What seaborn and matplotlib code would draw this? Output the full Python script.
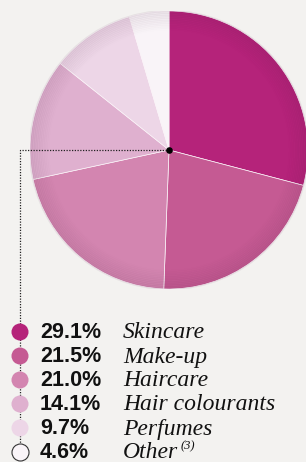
import numpy as np
import pandas as pd
import matplotlib
matplotlib.use("Agg")
import matplotlib.pyplot as plt
import seaborn as sns

# ---- data ----
labels = ["Skincare", "Make-up", "Haircare", "Hair colourants", "Perfumes", "Other"]
shares = [29.1, 21.5, 21.0, 14.1, 9.7, 4.6]
pct_text = ["29.1%", "21.5%", "21.0%", "14.1%", "9.7%", "4.6%"]
colors = ["#b5237a", "#c55a93", "#d385b0", "#dfb0cf", "#edd6e7", "#f9f4f8"]

BG = "#f3f2f0"
W, H = 306, 462

sns.set_theme(style="white")
plt.rcParams["font.family"] = ["Liberation Sans", "DejaVu Sans"]

fig = plt.figure(figsize=(W / 100, H / 100), dpi=100)
fig.patch.set_facecolor(BG)

# pie axes placed by pixel centre / radius
cx, cy, r = 169, 150, 139
axp = fig.add_axes([(cx - r) / W, (H - cy - r) / H, 2 * r / W, 2 * r / H])
axp.set_facecolor("none")
axp.pie(shares, colors=colors, startangle=90, counterclock=False, radius=1,
        wedgeprops=dict(edgecolor="#fbf3f8", linewidth=0.5))
# soft rim shading
for k in range(12):
    rr = 1 - k * 0.012
    axp.add_patch(plt.Circle((0, 0), rr, fill=False, lw=1.6,
                             color="#3a1030", alpha=0.07 * (12 - k) / 12))
axp.set_xlim(-1, 1)
axp.set_ylim(-1, 1)
axp.set_aspect("equal")
axp.axis("off")

# overlay axes in pixel coordinates
ax = fig.add_axes([0, 0, 1, 1])

ys = [332, 356, 380, 404, 428, 452]
ax.plot([cx, 20, 20], [cy, cy, ys[-1]], color="#222222", lw=0.9,
        linestyle=(0, (1, 1.2)), zorder=2)
ax.scatter([cx], [cy], s=14, color="black", zorder=3)

leg = pd.DataFrame({"x": [20] * len(ys), "y": ys, "label": labels})
sns.scatterplot(data=leg, x="x", y="y", hue="label", palette=colors, s=150,
                edgecolor="none", legend=False, ax=ax, zorder=4)
ax.scatter([20], [ys[-1]], s=150, facecolor=colors[-1], edgecolor="#333333",
           linewidth=0.8, zorder=5)
ax.set_xlim(0, W)
ax.set_ylim(H, 0)
ax.set_facecolor("none")
ax.axis("off")

for y, p, lab in zip(ys, pct_text, labels):
    ax.text(40, y + 1, p, fontsize=15.5, fontweight="bold", color="#111111",
            va="center", ha="left", family=["Liberation Sans", "DejaVu Sans"])
    ax.text(123, y + 1, lab, fontsize=17, style="italic", color="#111111",
            va="center", ha="left", family=["Liberation Serif", "DejaVu Serif"])
ax.text(181, ys[-1] - 6, "(3)", fontsize=9, style="italic", color="#111111",
        va="center", ha="left", family=["Liberation Serif", "DejaVu Serif"])

fig.savefig("out.png", dpi=100, facecolor=BG)
